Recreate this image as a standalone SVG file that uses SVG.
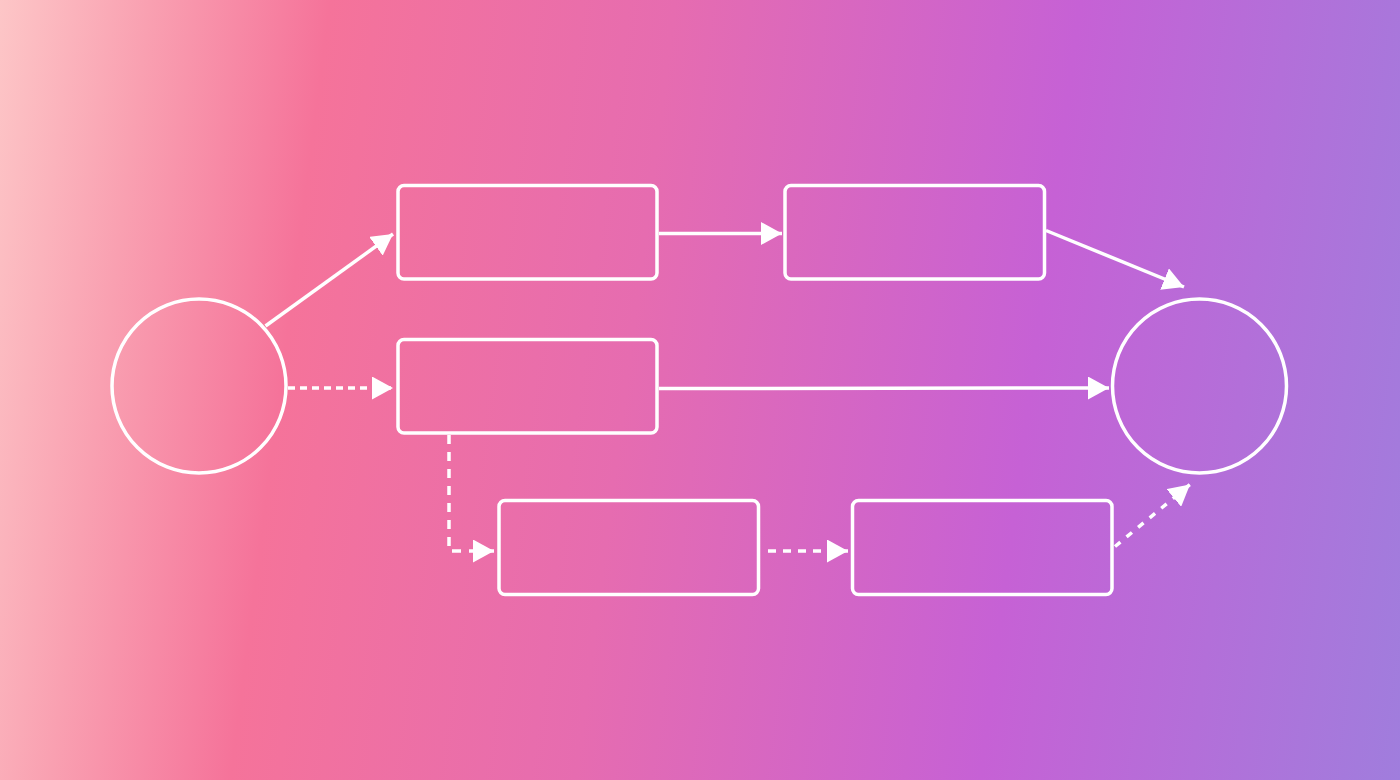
<svg xmlns="http://www.w3.org/2000/svg" width="1400" height="780" viewBox="0 0 1400 780">
  <defs>
    <linearGradient id="bg" gradientUnits="userSpaceOnUse" x1="0" y1="0" x2="1476" y2="189">
      <stop offset="0" stop-color="#fdc6c7"/>
      <stop offset="0.1" stop-color="#f9a0b1"/>
      <stop offset="0.22" stop-color="#f5739a"/>
      <stop offset="0.45" stop-color="#e66cb0"/>
      <stop offset="0.72" stop-color="#c661d5"/>
      <stop offset="1" stop-color="#a07ddd"/>
    </linearGradient>
    <marker id="arrow" markerUnits="userSpaceOnUse" markerWidth="21" markerHeight="23" refX="21" refY="11.5" orient="auto" viewBox="0 0 21 23">
      <path d="M0,0 L21,11.5 L0,23 Z" fill="#ffffff"/>
    </marker>
    <style>
      .node { fill: none; stroke: #ffffff; stroke-width: 3.5; }
      .edge { fill: none; stroke: #ffffff; stroke-width: 3.5; marker-end: url(#arrow); }
      .dash { stroke-dasharray: 8 7; }
    </style>
  </defs>
  <rect x="0" y="0" width="1400" height="780" fill="url(#bg)"/>

  <g id="start"><circle class="node" cx="199" cy="386" r="87"/></g>
  <g id="end"><circle class="node" cx="1199.5" cy="386" r="87"/></g>
  <g id="box1"><rect class="node" x="398" y="185.5" width="259" height="93.5" rx="6"/></g>
  <g id="box2"><rect class="node" x="785" y="185.5" width="259.5" height="93.5" rx="6"/></g>
  <g id="box3"><rect class="node" x="398" y="339.5" width="259" height="93.5" rx="6"/></g>
  <g id="box4"><rect class="node" x="499" y="500.5" width="259.5" height="94" rx="6"/></g>
  <g id="box5"><rect class="node" x="852.5" y="500.5" width="259.5" height="94" rx="6"/></g>

  <g id="connectors">
    <line class="edge" x1="265.5" y1="326" x2="393" y2="234"/>
    <line class="edge" x1="659" y1="233.5" x2="782" y2="233.5"/>
    <line class="edge" x1="1046" y1="230.5" x2="1184" y2="287"/>
    <line class="edge dash" x1="288" y1="388" x2="393" y2="388" style="stroke-dasharray:7 5"/>
    <line class="edge" x1="659" y1="388.5" x2="1109" y2="388"/>
    <polyline class="edge dash" points="449,435 449,551 494,551" style="stroke-dasharray:9 8"/>
    <line class="edge dash" x1="768" y1="551" x2="848" y2="551"/>
    <line class="edge dash" x1="1115" y1="546.5" x2="1190" y2="484.5" style="stroke-dasharray:7 8"/>
  </g>
</svg>
